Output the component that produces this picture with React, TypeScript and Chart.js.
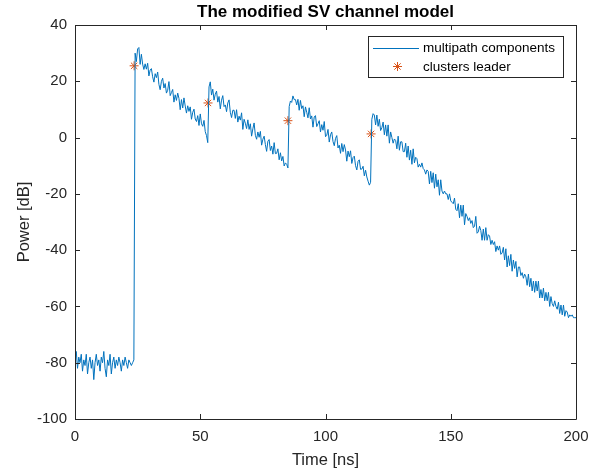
import { useEffect, useRef } from "react";
import { Chart, registerables } from "chart.js";

Chart.register(...registerables);

// sampling step of the power-delay profile (ns)
const SAMPLE_STEP = 0.5;

// t = 0 .. 23.5 ns : noise floor
const noiseFloor = [
  -79, -76, -82, -78, -80, -77, -83, -79, -81, -77,
  -84, -80, -78, -82, -79, -86, -80, -77, -81, -79,
  -83, -78, -80, -76, -82, -85, -79, -81, -77, -84,
  -80, -78, -82, -79, -81, -78, -80, -83, -79, -81,
  -78, -80, -82, -79, -80, -81, -80, -79,
];

// t = 24 .. 53 ns : first cluster
const cluster1 = [
  30, 27, 31.5, 32, 26, 29.6, 26.1, 24.2, 26.2, 24.3,
  26.4, 21.9, 24, 24.5, 21.6, 19.7, 22.7, 21.3, 23.3, 18.9,
  17, 20, 21.1, 17.6, 19.2, 15.8, 16.8, 19.9, 14.9, 16,
  17.1, 12.6, 15.2, 13.2, 15.8, 13.9, 9.9, 13.5, 10.5, 14.1,
  11.2, 8.7, 11.3, 9.3, 10.9, 6.5, 9, 10.1, 6.6, 5.7,
  7.8, 4.3, 8.4, 4.9, 4, 6.1, 2.1, 0.7, -1.8,
];

// t = 53.5 .. 85 ns : second cluster
const cluster2 = [
  18, 19.8, 15.1, 17.2, 13.3, 15.4, 16.5, 12.6, 14.6, 10.2,
  13.3, 14.9, 11, 11.6, 9.2, 12.3, 13.4, 9, 7.1, 9.7,
  9.7, 6.8, 9.9, 5.5, 7.6, 6.2, 8.8, 2.9, 6.5, 5.1,
  3.2, 6.3, 2.9, 4.9, 0.5, 3.1, 5.2, 0.8, -0.6, 2,
  0.1, 2.2, -2.7, -0.6, 0.5, -2.5, -4.9, -1.3, -0.7, -4.6,
  -3, -5.9, -1.8, -5.7, -5.6, -4, -7.9, -5.4, -8.3, -6.7,
  -10.1, -9, -9.5, -10.8,
];

// t = 85.5 .. 118 ns : third cluster
const cluster3 = [
  11, 13, 12.5, 14.8, 13.5, 13.5, 11.6, 13.6, 9.7, 13.2,
  10.3, 11.3, 7.4, 10.9, 9, 7, 10.6, 6.6, 7.7, 3.7,
  7.3, 7.8, 3.9, 4.9, 6, 2, 4.6, 2.6, 5.7, 0.3,
  0.8, 2.9, -1.6, 1, 2, -1.4, -2.9, -0.3, 0.7, -3.7,
  -2.7, -5.6, -2.1, -5, -2.5, -4.4, -8.4, -4.8, -6.8, -4.7,
  -9.2, -7.1, -6.6, -10, -11.5, -8.4, -7.9, -11.3, -11.2, -10.2,
  -13.6, -11.6, -14, -15.5, -16.9, -15.9,
];

// t = 118.5 .. 200 ns : fourth cluster
const cluster4 = [
  6.5, 8.5, 8, 4.5, 8, 4, 6.5, 2.5, 3.5, 5.5,
  1, 4.5, 0.5, 4.5, -2, 2, 0, -2, -0.5, -1,
  -4, 0.5, -4.5, -1.5, -1.5, -5, -5, -2, -7, -3,
  -8, -4.5, -9.5, -4, -9, -7, -7.5, -10.5, -9.5, -10.5,
  -9, -11, -11.5, -13, -11.5, -12, -16.5, -12, -16, -12.5,
  -18, -13, -17.5, -15, -20.5, -15, -19, -20, -19, -20,
  -20, -22, -20, -22.5, -23, -23.5, -21.5, -25.5, -26, -23.5,
  -28.5, -24, -28, -24, -31, -27, -28, -29.5, -28.5, -30.5,
  -29.5, -32, -31.5, -28, -34, -33.5, -31.5, -33, -36.5, -32.5,
  -36.5, -32, -36.5, -34.5, -35, -38, -36.5, -38, -37, -40.5,
  -38.5, -40, -38.5, -41.5, -41, -39, -43.5, -39.5, -46, -42,
  -45.5, -41.5, -47.5, -43.5, -46.5, -44, -49.5, -46, -46, -49,
  -48, -50, -48.5, -49.5, -52.5, -48.5, -53, -50, -54.5, -51,
  -55, -51, -54.5, -51, -57, -54, -57, -53.5, -58, -55,
  -58, -55, -60, -56.5, -59, -60, -58, -60, -61, -58.5,
  -62.5, -59.5, -63, -59.5, -63.5, -61.5, -62, -64, -63, -63.5,
  -63, -64, -64, -64,
];

// cluster leaders
const leaderTimes = [23.6, 53.1, 85, 118.2];
const leaderPower = [25.5, 12.3, 6, 1.3];

const xTicks = [0, 50, 100, 150, 200];
const yTicks = [-100, -80, -60, -40, -20, 0, 20, 40];

const TITLE = "The modified SV channel model";
const X_LABEL = "Time [ns]";
const Y_LABEL = "Power [dB]";
const LEGEND_LABELS = ["multipath components", "clusters leader"];

const BLUE = "#0072BD";
const ORANGE = "#D95319";
const AXIS = "#262626";
const FONT = "'Liberation Sans', Arial, Helvetica, sans-serif";

const power = [...noiseFloor, ...cluster1, ...cluster2, ...cluster3, ...cluster4];
const pathData = power.map((v, i) => ({ x: i * SAMPLE_STEP, y: v }));
const leaderData = leaderTimes.map((t, i) => ({ x: t, y: leaderPower[i] }));

const framePlugin = {
  id: "matlabFrame",
  afterDraw(chart: any) {
    const { ctx, chartArea } = chart;
    const { left, right, top, bottom } = chartArea;
    const xs = chart.scales.x;
    const ys = chart.scales.y;
    ctx.save();
    ctx.strokeStyle = AXIS;
    ctx.lineWidth = 1;
    ctx.beginPath();
    ctx.rect(Math.round(left) + 0.5, Math.round(top) + 0.5, Math.round(right - left), Math.round(bottom - top));
    ctx.stroke();
    const tl = 5;
    ctx.beginPath();
    xTicks.forEach((t) => {
      const px = Math.round(xs.getPixelForValue(t)) + 0.5;
      ctx.moveTo(px, bottom);
      ctx.lineTo(px, bottom - tl);
      ctx.moveTo(px, top);
      ctx.lineTo(px, top + tl);
    });
    yTicks.forEach((t) => {
      const py = Math.round(ys.getPixelForValue(t)) + 0.5;
      ctx.moveTo(left, py);
      ctx.lineTo(left + tl, py);
      ctx.moveTo(right, py);
      ctx.lineTo(right - tl, py);
    });
    ctx.stroke();

    // title
    ctx.fillStyle = "#000";
    ctx.font = `bold 17px ${FONT}`;
    ctx.textAlign = "center";
    ctx.textBaseline = "alphabetic";
    ctx.fillText(TITLE, (left + right) / 2, 17);

    // legend
    const lx = 368.5, ly = 36.5, lw = 195, lh = 41;
    ctx.fillStyle = "#fff";
    ctx.fillRect(lx, ly, lw, lh);
    ctx.strokeStyle = AXIS;
    ctx.strokeRect(lx, ly, lw, lh);
    ctx.strokeStyle = BLUE;
    ctx.beginPath();
    ctx.moveTo(373, 48.5);
    ctx.lineTo(419, 48.5);
    ctx.stroke();
    ctx.strokeStyle = ORANGE;
    const sx = 397.5, sy = 66.5, r = 4.5;
    ctx.beginPath();
    ctx.moveTo(sx - r, sy); ctx.lineTo(sx + r, sy);
    ctx.moveTo(sx, sy - r); ctx.lineTo(sx, sy + r);
    const d = r * 0.7071;
    ctx.moveTo(sx - d, sy - d); ctx.lineTo(sx + d, sy + d);
    ctx.moveTo(sx - d, sy + d); ctx.lineTo(sx + d, sy - d);
    ctx.stroke();
    ctx.fillStyle = "#000";
    ctx.font = `13.5px ${FONT}`;
    ctx.textAlign = "left";
    ctx.textBaseline = "middle";
    ctx.fillText(LEGEND_LABELS[0], 423, 48);
    ctx.fillText(LEGEND_LABELS[1], 423, 67);
    ctx.restore();
  },
};

export default function App() {
  const ref = useRef<HTMLCanvasElement | null>(null);
  useEffect(() => {
    document.body.style.margin = "0";
    const canvas = ref.current;
    if (!canvas) return;
    const chart = new Chart(canvas, {
      type: "line",
      data: {
        datasets: [
          {
            label: LEGEND_LABELS[0],
            data: pathData,
            borderColor: BLUE,
            backgroundColor: BLUE,
            borderWidth: 1,
            pointRadius: 0,
            tension: 0,
            fill: false,
          },
          {
            label: LEGEND_LABELS[1],
            data: leaderData,
            showLine: false,
            borderColor: ORANGE,
            backgroundColor: ORANGE,
            pointStyle: "star",
            pointRadius: 4.5,
            pointBorderWidth: 1,
          },
        ],
      },
      options: {
        responsive: false,
        animation: false,
        devicePixelRatio: 1,
        layout: { padding: { left: 0, right: 25, top: 25, bottom: 0 } },
        plugins: {
          legend: { display: false },
          title: { display: false },
          tooltip: { enabled: false },
        },
        scales: {
          x: {
            type: "linear",
            min: 0,
            max: 200,
            afterFit: (s: any) => { s.height = 52; },
            afterBuildTicks: (s: any) => { s.ticks = xTicks.map((v) => ({ value: v })); },
            grid: { display: false, drawTicks: false },
            border: { display: false },
            ticks: { color: AXIS, padding: 9, autoSkip: false, maxRotation: 0, font: { family: FONT, size: 15 } },
            title: { display: true, text: X_LABEL, color: AXIS, padding: { top: 0, bottom: 1 }, font: { family: FONT, size: 16.5 } },
          },
          y: {
            type: "linear",
            min: -100,
            max: 40,
            afterFit: (s: any) => { s.width = 75; },
            afterBuildTicks: (s: any) => { s.ticks = yTicks.map((v) => ({ value: v })); },
            grid: { display: false, drawTicks: false },
            border: { display: false },
            ticks: { color: AXIS, padding: 8, autoSkip: false, font: { family: FONT, size: 15 } },
            title: { display: true, text: Y_LABEL, color: AXIS, padding: { top: 15, bottom: 0 }, font: { family: FONT, size: 16.5 } },
          },
        },
      },
      plugins: [framePlugin],
    });
    return () => chart.destroy();
  }, []);
  return <canvas ref={ref} width={601} height={471} style={{ display: "block", width: 601, height: 471 }} />;
}
